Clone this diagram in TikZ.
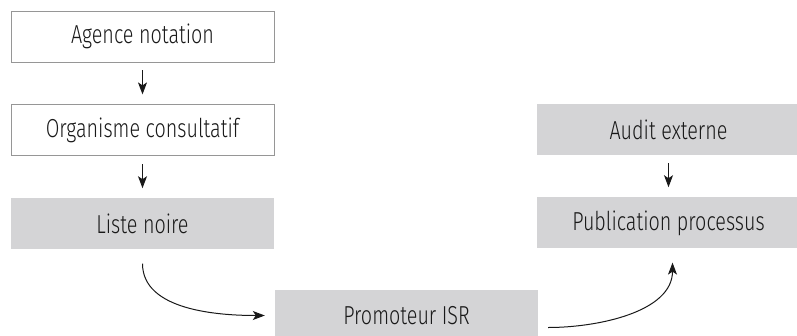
\documentclass[tikz,border=0pt]{standalone}
\usepackage{fontspec}
\setmainfont{Fira Sans Light}[FakeStretch=0.76]
\usepackage{tikz}
\usetikzlibrary{positioning, arrows.meta}

\definecolor{boxgray}{RGB}{212,212,214}
\definecolor{framegray}{RGB}{150,150,150}
\definecolor{textgray}{RGB}{25,25,25}

\tikzset{
  stage/.style={minimum width=263pt, minimum height=51pt, inner sep=0pt,
    font=\fontsize{26}{30}\selectfont, text=textgray},
  openstage/.style={stage, draw=framegray, line width=0.8pt},
  greystage/.style={stage, fill=boxgray},
  flow/.style={-{Stealth[length=12pt, width=9pt, inset=3pt]}, line width=1pt, black!90}
}

\begin{document}
\begin{tikzpicture}[x=1pt, y=-1pt]
\useasboundingbox (0,0) rectangle (797,335);

% left column
\node[openstage] (agence) at (142.5,36.5) {Agence notation};
\node[openstage, below=42pt of agence] (organisme) {Organisme consultatif};
\node[greystage, below=42pt of organisme] (liste) {Liste noire};

% right column
\node[greystage] (audit) at (668.5,129.5) {Audit externe};
\node[greystage, below=42pt of audit] (publication) {Publication processus};

% bottom
\node[greystage] (promoteur) at (406.5,315.5) {Promoteur ISR};

\draw[flow, shorten <=8pt, shorten >=10pt] (agence) -- (organisme);
\draw[flow, shorten <=8pt, shorten >=10pt] (organisme) -- (liste);
\draw[flow, shorten <=8pt, shorten >=10pt] (audit) -- (publication);

\draw[flow] ([yshift=-14pt]liste.south) to[out=-90, in=180, looseness=0.9] ([xshift=-10pt]promoteur.west);
\draw[flow] ([xshift=10pt, yshift=-12pt]promoteur.east) to[out=0, in=-90, looseness=0.9] ([xshift=4pt, yshift=-14pt]publication.south);
\end{tikzpicture}
\end{document}
